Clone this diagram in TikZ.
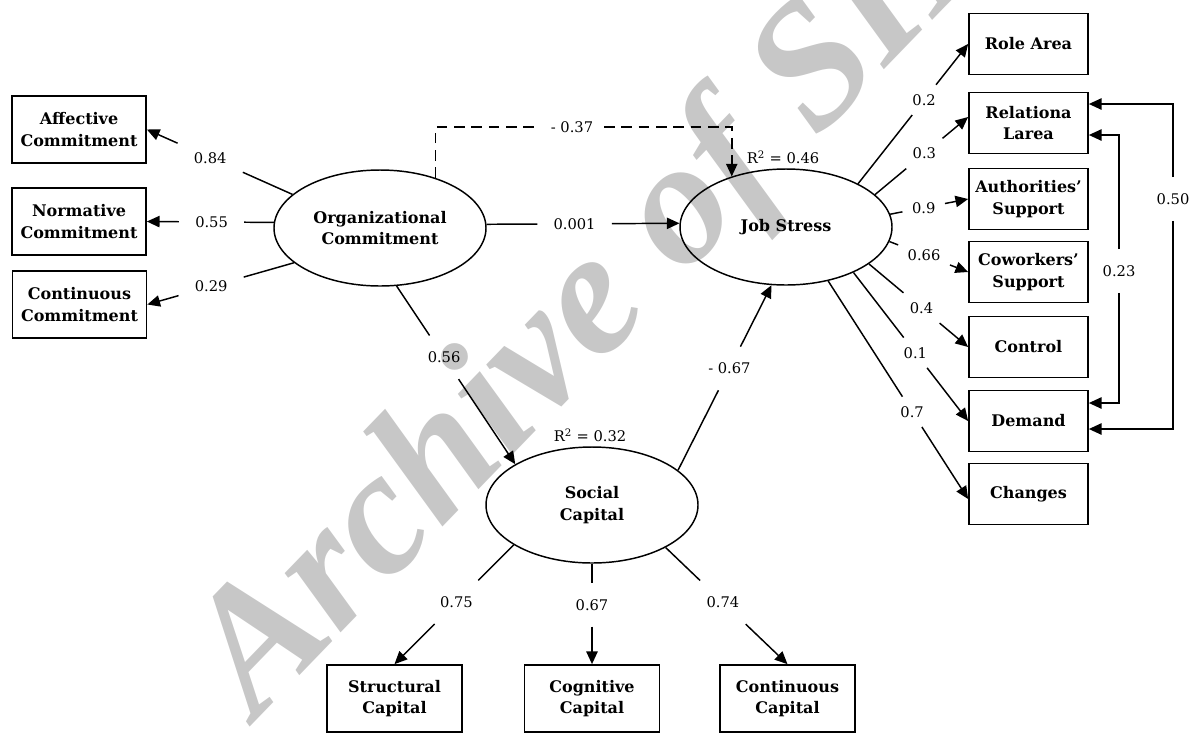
\documentclass[tikz,border=0pt]{standalone}
\usepackage{fontspec}
\setmainfont{DejaVu Serif}
\newfontfamily\wmfont{Liberation Serif}
\usetikzlibrary{arrows.meta,shapes.geometric,calc}
\newcommand\semlink[6][lbl]{%
  \path (#2) -- node[#1,pos=#4] (#5) {#6} (#3);
  \draw[line] (#2) -- (#5);
  \draw[line,arr] (#5) -- (#3);}
\begin{document}
\begin{tikzpicture}[x=0.75pt,y=-0.75pt,
  line/.style={line width=1.1pt},
  arr/.style={-{Triangle[length=9.5pt,width=8.5pt]}},
  lv/.style={draw,line width=1.1pt,ellipse,minimum width=159pt,minimum height=87pt,inner sep=0pt,align=center,font=\fontsize{12}{16}\selectfont\bfseries},
  boxl/.style={draw,line width=1.3pt,rectangle,minimum width=100.5pt,minimum height=50.25pt,inner sep=0pt,align=center,font=\fontsize{12}{16}\selectfont\bfseries},
  boxr/.style={boxl,minimum width=89.25pt,minimum height=45.75pt},
  boxb/.style={boxl,minimum width=101.25pt},
  lbl/.style={inner sep=12pt,font=\fontsize{11}{13}\selectfont},
  lblr/.style={lbl,inner sep=7pt},
  txt/.style={inner sep=0pt,font=\fontsize{11}{13}\selectfont}]

\useasboundingbox (0,0) rectangle (1189,733);
\begin{scope}
\clip (0,0) rectangle (1189,733);
\node[text=black!22, font=\wmfont\fontsize{133}{133}\selectfont\bfseries\itshape, rotate=46, anchor=base west, inner sep=0pt] (wm) at (256,721) {Archive of SID};
\end{scope}

% latent variables
\node[lv] (oc) at (380,228) {Organizational\\Commitment};
\node[lv] (js) at (786,227) {Job Stress};
\node[lv] (sc) at (592,505) {Social\\Capital};

% left indicators
\node[boxl] (ac) at (79,129.5) {Affective\\Commitment};
\node[boxl] (nc) at (79,221.5) {Normative\\Commitment};
\node[boxl] (ccm) at (79.5,304.5) {Continuous\\Commitment};

% right indicators
\node[boxr] (ra) at (1028.5,44) {Role Area};
\node[boxr] (rl) at (1028.5,123) {Relationa\\Larea};
\node[boxr] (as) at (1028.5,199) {Authorities'\\Support};
\node[boxr] (cs) at (1028.5,272) {Coworkers'\\Support};
\node[boxr] (ct) at (1028.5,347) {Control};
\node[boxr] (dm) at (1028.5,421) {Demand};
\node[boxr] (ch) at (1028.5,494) {Changes};

% bottom indicators
\node[boxb] (stc) at (394.5,698.5) {Structural\\Capital};
\node[boxb] (cgc) at (592,698.5) {Cognitive\\Capital};
\node[boxb] (cnc) at (787.5,698.5) {Continuous\\Capital};

% loadings and paths
\semlink{oc.159}{ac.east}{0.565}{l84}{0.84}
\semlink{oc.177}{nc.east}{0.49}{l55}{0.55}
\semlink{oc.202}{ccm.east}{0.565}{l29}{0.29}
\semlink{oc.2}{js.178}{0.456}{l001}{0.001}
\semlink{oc.-74}{sc.152}{0.40}{l56}{0.56}
\semlink{sc.22}{js.-104}{0.55}{l67n}{- 0.67}
\semlink[lblr]{js.31}{ra.west}{0.6}{l2}{0.2}
\semlink[lblr]{js.20}{$(rl.west)+(0,-6)$}{0.53}{l3}{0.3}
\semlink[lblr]{js.7}{as.west}{0.43}{l9}{0.9}
\semlink[lblr]{js.-8}{cs.west}{0.44}{l66}{0.66}
\semlink[lblr]{js.-24}{ct.west}{0.53}{l4}{0.4}
\semlink[lblr]{js.-34}{dm.west}{0.54}{l1}{0.1}
\semlink[lblr]{js.-52}{$(ch.west)+(0,5)$}{0.60}{l7}{0.7}
\semlink{sc.207}{stc.north}{0.48}{l75}{0.75}
\semlink{sc.south}{cgc.north}{0.41}{l67}{0.67}
\semlink{sc.-30}{cnc.north}{0.47}{l74}{0.74}

% dashed path
\node[lbl,inner sep=8pt] (l037) at (572,127) {- 0.37};
\draw[line,dash pattern=on 8pt off 5pt] (oc.42) |- (l037);
\draw[line,dash pattern=on 8pt off 5pt,arr] (l037) -| (js.137);

% R squared
\node[txt] (r46) at (783,157) {R\textsuperscript{2} = 0.46};
\node[txt] (r32) at (590,435) {R\textsuperscript{2} = 0.32};

% correlated errors
\node[lbl] (l050) at (1173,199) {0.50};
\draw[line,arr] (l050) |- ($(rl.east)+(0,-19)$);
\draw[line,arr] (l050) |- ($(dm.east)+(0,8)$);
\node[lbl] (l023) at (1119,271) {0.23};
\draw[line,arr] (l023) |- ($(rl.east)+(0,12)$);
\draw[line,arr] (l023) |- ($(dm.east)+(0,-18)$);
\end{tikzpicture}
\end{document}
